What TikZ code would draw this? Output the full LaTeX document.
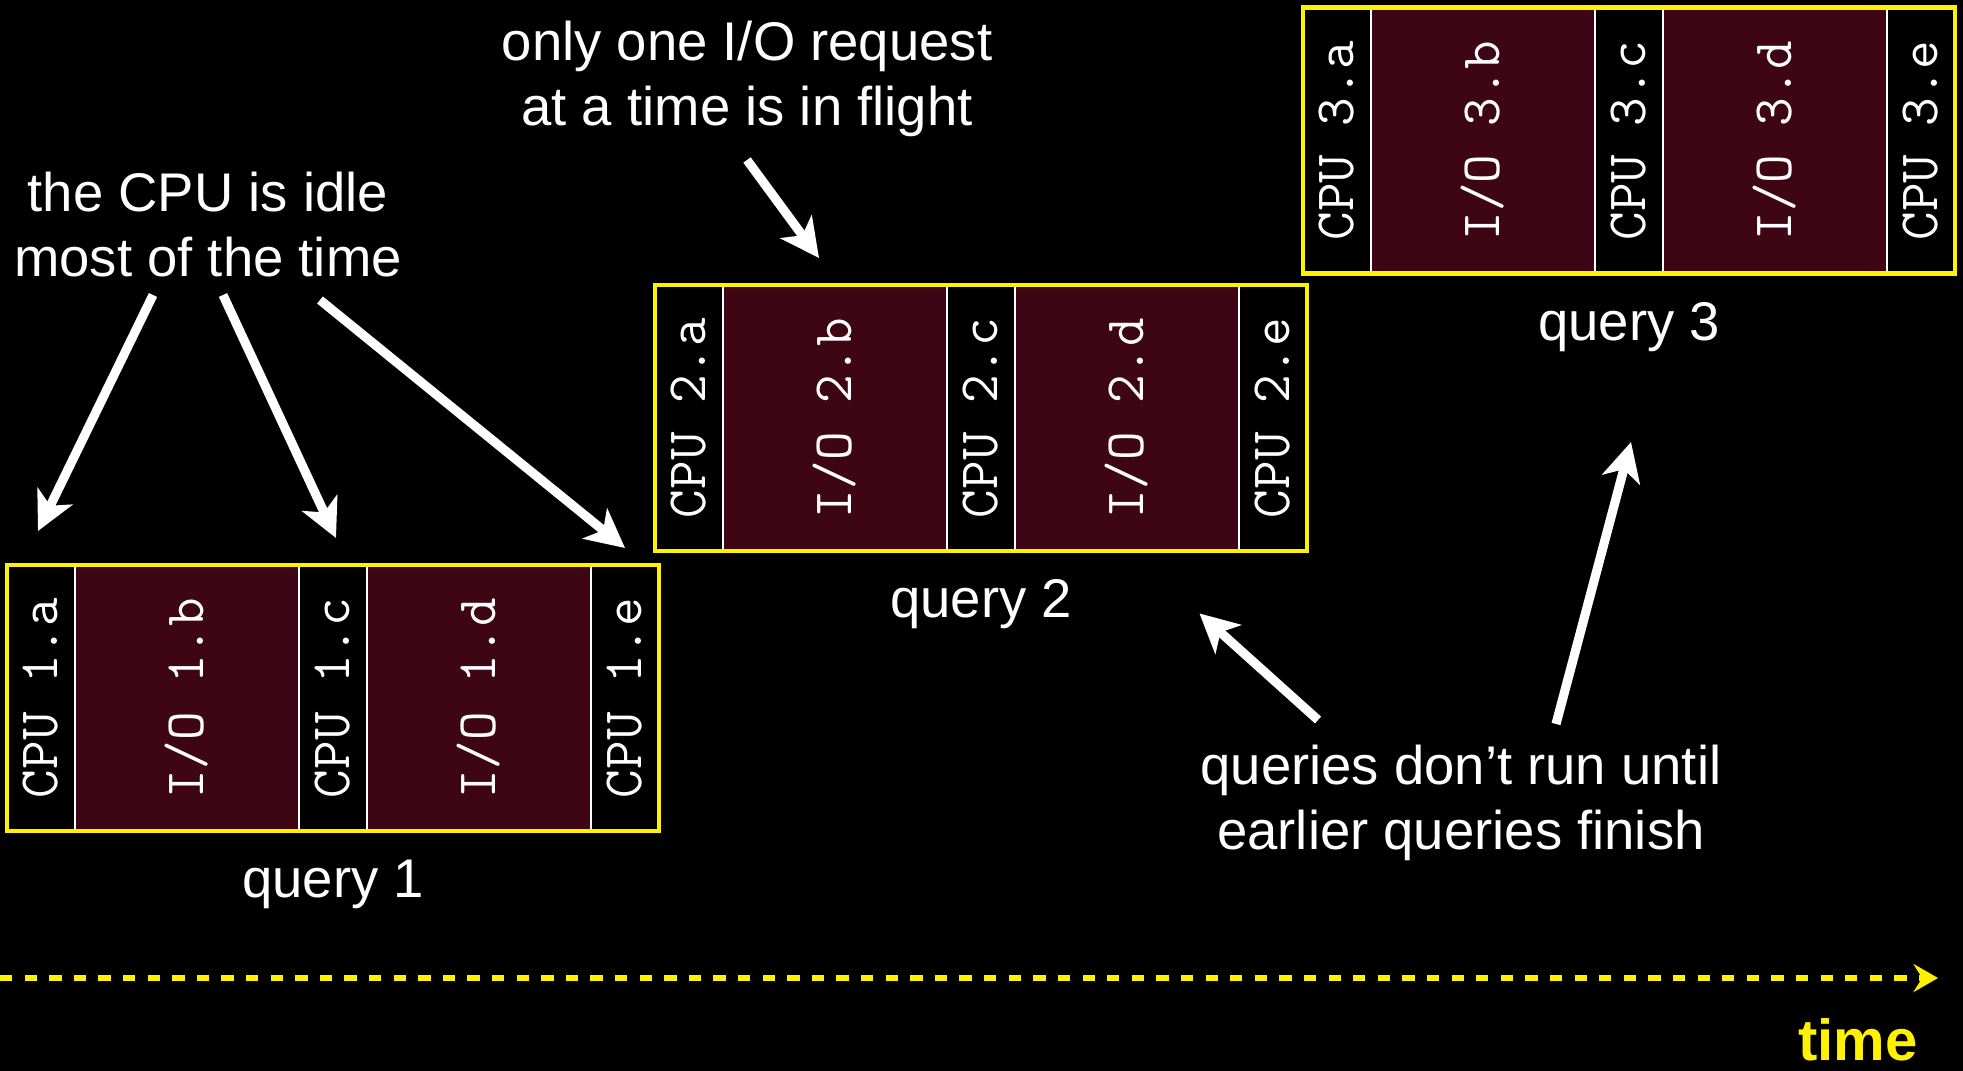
\documentclass[tikz,border=0pt]{standalone}
\usepackage{fontspec}
\setmainfont{Liberation Sans}
\usetikzlibrary{arrows.meta,positioning,fit}
\definecolor{iored}{RGB}{62,6,20}
\definecolor{qyellow}{RGB}{255,242,0}

\begin{document}
\begin{tikzpicture}[
    seg/.style={draw=white, line width=0.8pt, minimum height=2.66cm, inner sep=0pt, outer sep=0pt, text=white, font=\fontsize{15.8}{18}\ttfamily},
    cpuseg/.style={seg, fill=black, minimum width=0.68cm},
    ioseg/.style={seg, fill=iored, minimum width=2.24cm},
    frame/.style={draw=qyellow, line width=1.4pt, inner sep=0pt},
    note/.style={text=white, align=center, font=\fontsize{15.5}{18.5}\selectfont},
    bigarrow/.style={draw=white, line width=2.6pt, -{Stealth[length=11pt, width=11pt, inset=3pt]}},
    timeline/.style={draw=qyellow, line width=1.6pt, dash pattern=on 3.5pt off 3.5pt, -{Stealth[length=7pt, width=8pt, inset=2.5pt]}}]
    \path[use as bounding box, fill=black] (0,0) rectangle (19.63,-10.71);

    \node (q1a) [cpuseg, anchor=north west] at (0.07,-5.65) {\rotatebox{90}{CPU 1.a}};
    \node (q1b) [ioseg, right=0pt of q1a] {\rotatebox{90}{I/O 1.b}};
    \node (q1c) [cpuseg, right=0pt of q1b] {\rotatebox{90}{CPU 1.c}};
    \node (q1d) [ioseg, right=0pt of q1c] {\rotatebox{90}{I/O 1.d}};
    \node (q1e) [cpuseg, right=0pt of q1d] {\rotatebox{90}{CPU 1.e}};
    \node (q1) [frame, fit=(q1a)(q1e)] {};
    \node (q1lbl) [note, below=0.14cm of q1] {query 1};

    \node (q2a) [cpuseg, anchor=north west] at (6.55,-2.85) {\rotatebox{90}{CPU 2.a}};
    \node (q2b) [ioseg, right=0pt of q2a] {\rotatebox{90}{I/O 2.b}};
    \node (q2c) [cpuseg, right=0pt of q2b] {\rotatebox{90}{CPU 2.c}};
    \node (q2d) [ioseg, right=0pt of q2c] {\rotatebox{90}{I/O 2.d}};
    \node (q2e) [cpuseg, right=0pt of q2d] {\rotatebox{90}{CPU 2.e}};
    \node (q2) [frame, fit=(q2a)(q2e)] {};
    \node (q2lbl) [note, below=0.14cm of q2] {query 2};

    \node (q3a) [cpuseg, anchor=north west] at (13.03,-0.075) {\rotatebox{90}{CPU 3.a}};
    \node (q3b) [ioseg, right=0pt of q3a] {\rotatebox{90}{I/O 3.b}};
    \node (q3c) [cpuseg, right=0pt of q3b] {\rotatebox{90}{CPU 3.c}};
    \node (q3d) [ioseg, right=0pt of q3c] {\rotatebox{90}{I/O 3.d}};
    \node (q3e) [cpuseg, right=0pt of q3d] {\rotatebox{90}{CPU 3.e}};
    \node (q3) [frame, fit=(q3a)(q3e)] {};
    \node (q3lbl) [note, below=0.14cm of q3] {query 3};

    \node (idle) [note] at (2.08,-2.25) {the CPU is idle\\most of the time};
    \node (flight) [note] at (7.47,-0.785) {only one I/O request\\at a time is in flight};
    \node (order) [note] at (14.61,-8.03) {queries don’t run until\\earlier queries finish};

    \draw [bigarrow] ([shift={(-0.55,-0.70)}]idle.center) -- ([shift={(-0.03,0.34)}]q1a.north);
    \draw [bigarrow] ([shift={(0.15,-0.70)}]idle.center) -- ([shift={(0.03,0.27)}]q1c.north);
    \draw [bigarrow] ([shift={(1.12,-0.75)}]idle.center) -- ([yshift=0.17cm]q1e.north);
    \draw [bigarrow] ([yshift=-0.815cm]flight.center) -- ([shift={(-0.16,0.27)}]q2b.north);
    \draw [bigarrow] ([shift={(-1.43,0.83)}]order.center) -- ([shift={(-1.10,-0.60)}]q2.south east);
    \draw [bigarrow] ([shift={(0.95,0.79)}]order.center) -- ([shift={(0.02,-1.15)}]q3lbl.center);

    \coordinate (t0) at (0,-9.78);
    \coordinate (t1) at (19.38,-9.78);
    \draw [timeline] (t0) -- (t1);
    \node (timelbl) [text=qyellow, font=\fontsize{16.5}{20}\selectfont\bfseries] at (18.58,-10.40) {time};
\end{tikzpicture}
\end{document}
